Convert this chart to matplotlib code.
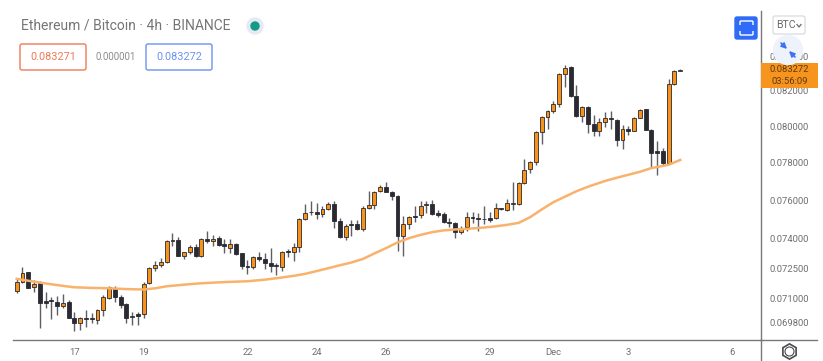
from matplotlib import pyplot as plt
from matplotlib.patches import Circle, FancyBboxPatch, Rectangle
from matplotlib.ticker import FixedLocator, NullLocator

opens = [
    .07137, .07183, .07230, .07154, .07175, .07089, .07091, .07084, .07063, .07084,
    .07006, .06979, .07006, .07002, .06995, .07043, .07102, .07152, .07109, .07072,
    .07008, .07024, .07024, .07175, .07252, .07264, .07284, .07390, .07394, .07314,
    .07331, .07360, .07312, .07398, .07387, .07403, .07373, .07355, .07373, .07326,
    .07262, .07254, .07309, .07295, .07275, .07265, .07258, .07339, .07331, .07360,
    .07503, .07537, .07539, .07529, .07555, .07580, .07494, .07408, .07476, .07474,
    .07451, .07560, .07576, .07647, .07670, .07644, .07624, .07415, .07477, .07518,
    .07523, .07576, .07581, .07533, .07528, .07488, .07481, .07436, .07460, .07512,
    .07507, .07503, .07505, .07507, .07559, .07550, .07583, .07580, .07691, .07768,
    .07807, .07969, .08055, .08088, .08126, .08295, .08339, .08171, .08060, .08110,
    .08011, .07972, .08026, .08048, .08037, .07926, .07985, .07977, .08048, .08096,
    .07981, .07862, .07862, .07799, .08238, .08316,
]
highs = [
    .07196, .07258, .07233, .07192, .07187, .07133, .07109, .07114, .07122, .07092,
    .07031, .07011, .07043, .07027, .07046, .07117, .07160, .07162, .07117, .07076,
    .07035, .07031, .07179, .07255, .07289, .07300, .07394, .07428, .07411, .07334,
    .07368, .07373, .07403, .07441, .07420, .07415, .07399, .07399, .07380, .07329,
    .07292, .07312, .07334, .07326, .07351, .07275, .07339, .07346, .07377, .07505,
    .07580, .07597, .07588, .07568, .07591, .07599, .07507, .07476, .07498, .07498,
    .07571, .07647, .07649, .07682, .07697, .07652, .07629, .07520, .07520, .07568,
    .07594, .07599, .07603, .07550, .07541, .07507, .07484, .07467, .07541, .07538,
    .07533, .07568, .07541, .07585, .07562, .07606, .07695, .07695, .07821, .07812,
    .07972, .08059, .08090, .08143, .08301, .08349, .08343, .08234, .08114, .08114,
    .08064, .08046, .08083, .08087, .08041, .08009, .08005, .08055, .08100, .08100,
    .07985, .07917, .07880, .08266, .08318, .08327,
]
lows = [
    .07125, .07175, .07150, .07133, .06954, .07051, .07000, .07019, .07051, .07003,
    .06941, .06948, .06959, .06979, .06975, .07014, .07099, .07084, .07051, .06979,
    .06970, .06970, .07006, .07170, .07237, .07255, .07279, .07363, .07312, .07297,
    .07320, .07309, .07309, .07380, .07363, .07364, .07326, .07326, .07317, .07247,
    .07220, .07247, .07289, .07245, .07233, .07217, .07238, .07309, .07287, .07334,
    .07498, .07524, .07503, .07515, .07550, .07458, .07406, .07394, .07415, .07446,
    .07442, .07557, .07553, .07644, .07642, .07603, .07339, .07312, .07450, .07484,
    .07507, .07536, .07524, .07512, .07481, .07463, .07406, .07425, .07442, .07481,
    .07442, .07477, .07484, .07501, .07550, .07546, .07550, .07576, .07686, .07747,
    .07787, .07903, .07987, .08074, .08107, .08224, .08167, .08055, .08022, .07963,
    .07948, .07948, .07997, .07985, .07890, .07875, .07954, .07972, .08046, .07979,
    .07772, .07736, .07785, .07795, .08234, .08316,
]
closes = [
    .07181, .07225, .07153, .07172, .07076, .07076, .07086, .07063, .07079, .07004,
    .06979, .07006, .07000, .06999, .07043, .07105, .07154, .07105, .07068, .07006,
    .07016, .07016, .07172, .07250, .07265, .07280, .07390, .07394, .07314, .07331,
    .07360, .07312, .07399, .07387, .07401, .07368, .07363, .07373, .07322, .07263,
    .07254, .07309, .07295, .07279, .07262, .07262, .07334, .07333, .07360, .07502,
    .07533, .07541, .07529, .07553, .07580, .07494, .07408, .07468, .07470, .07451,
    .07560, .07576, .07645, .07670, .07644, .07625, .07415, .07476, .07512, .07513,
    .07568, .07581, .07528, .07524, .07486, .07481, .07434, .07458, .07512, .07507,
    .07503, .07500, .07498, .07562, .07552, .07585, .07588, .07691, .07763, .07806,
    .07969, .08055, .08087, .08124, .08295, .08333, .08171, .08059, .08110, .08015,
    .07972, .08022, .08046, .08041, .07926, .07985, .07977, .08046, .08092, .07981,
    .07853, .07853, .07799, .08238, .08314, .08322,
]

# moving average, read at some candles only
ma_candles = [0, 3, 5, 8, 10, 13, 16, 19, 22, 24, 26, 29, 32, 36, 40, 43, 45, 48, 50,
              53, 56, 58, 60, 62, 64, 66, 68, 70, 72, 74, 76, 78, 81, 83, 85, 87, 89,
              91, 93, 95, 97, 99, 102, 104, 106, 108, 110, 112, 113, 115]
ma_values = [.07197, .07183, .07174, .07162, .07155, .07152, .07150, .07146, .07144,
             .07150, .07160, .07168, .07175, .07181, .07185, .07193, .07200, .07212,
             .07222, .07243, .07265, .07279, .07297, .07325, .07352, .07381, .07403,
             .07420, .07434, .07443, .07448, .07451, .07458, .07464, .07472, .07482,
             .07512, .07552, .07590, .07619, .07648, .07672, .07703, .07720, .07736,
             .07752, .07772, .07784, .07790, .07816]

price_ticks = [.0698, .071, .0725, .074, .076, .078, .08, .082, .084]
price_labels = ["0.069800", "0.071000", "0.072500", "0.074000", "0.076000",
                "0.078000", "0.080000", "0.082000", "0.084000"]
date_ticks = [10, 22, 40, 52, 64, 82, 93, 106, 124]
date_labels = ["17", "19", "22", "24", "26", "29", "Dec", "3", "6"]

ORANGE = "#f7931a"
DARK = "#2a2a32"
WICK = "#5e5e65"
GREY = "#6f6f75"
BLUE = "#2f6bf6"

plt.rcParams["font.family"] = ["Roboto", "DejaVu Sans"]

W, H = 823, 361
fig = plt.figure(figsize=(W / 100, H / 100), dpi=100)
ax = fig.add_axes([13 / W, (H - 340) / H, 748 / W, 329 / H])

candles = range(len(opens))
ax.vlines(candles, lows, highs, color=WICK, lw=1.0, zorder=2)
for i in candles:
    up = closes[i] >= opens[i]
    ax.bar(i, abs(closes[i] - opens[i]), 0.68, bottom=min(opens[i], closes[i]),
           color=ORANGE if up else DARK, edgecolor=DARK, lw=0.6, zorder=3)
ax.plot(ma_candles, ma_values, color="#f9b26c", lw=1.8, zorder=4)

ax.set_yscale("log")
ax.set_xlim(-0.64, 129.0)
ax.set_ylim(.06898, .08667)
ax.yaxis.tick_right()
ax.yaxis.set_major_locator(FixedLocator(price_ticks))
ax.yaxis.set_minor_locator(NullLocator())
ax.set_yticklabels(price_labels)
ax.set_xticks(date_ticks, date_labels)
ax.tick_params(axis="y", length=0, pad=6, labelsize=6.8, labelcolor=GREY)
ax.tick_params(axis="x", length=0, pad=6, labelsize=6.8, labelcolor=GREY)
for side in ["top", "left"]:
    ax.spines[side].set_visible(False)
ax.spines["right"].set_color("#77777c")
ax.spines["bottom"].set_color("#77777c")
ax.spines["right"].set_linewidth(1.0)
ax.spines["bottom"].set_linewidth(1.0)

# everything around the chart is placed in pixels on a second axes
ui = fig.add_axes([0, 0, 1, 1], zorder=10)
ui.set_xlim(0, W)
ui.set_ylim(H, 0)
ui.axis("off")
ui.patch.set_alpha(0)

ui.plot([761, 761], [340, 361], color="#77777c", lw=1.0)
ui.plot([761, 817], [340, 340], color="#77777c", lw=1.0)

ui.text(21, 26, "Ethereum / Bitcoin · 4h · BINANCE", fontsize=10, color="#757575",
        va="center")
ui.add_patch(Circle((255, 26), 8, color="#e4eaf3"))
ui.add_patch(Circle((255, 26), 4, color="#149a85"))


def value_box(x0, x1, text, color):
    ui.add_patch(FancyBboxPatch((x0 + 2, 46), x1 - x0 - 4, 22, fc="white", ec=color, lw=1.0,
                                boxstyle="round,pad=2"))
    ui.text((x0 + x1) / 2, 57, text, color=color, fontsize=7.8, ha="center", va="center")


value_box(20, 86, "0.083271", "#ee7a56")
value_box(146, 212, "0.083272", "#6c93f0")
ui.text(115.5, 57, "0.000001", color="#8c8c90", fontsize=7, ha="center", va="center")

# fullscreen button
ui.add_patch(FancyBboxPatch((737, 19), 18, 18, fc=BLUE, ec=BLUE, lw=1.0,
                            boxstyle="round,pad=2"))
ui.add_patch(FancyBboxPatch((741, 22), 11, 12, fc=BLUE, ec="white", lw=1.0,
                            boxstyle="round,pad=1"))
ui.add_patch(Rectangle((738, 25), 17, 6, fc=BLUE, ec="none", zorder=3))

# currency button
ui.add_patch(FancyBboxPatch((775, 18), 28, 14, fc="white", ec="#d6d6da", lw=0.8,
                            boxstyle="round,pad=2"))
ui.text(785.5, 25.5, "BTC", fontsize=7.6, color="#6a6a6a", ha="center", va="center")
ui.plot([797, 799, 801], [24.5, 27, 24.5], color="#6a6a6a", lw=0.9)

# price label
ui.add_patch(Rectangle((761, 63), 57, 25, fc="#f7941d", ec="none"))
ui.text(789.5, 69.5, "0.083272", fontsize=6.8, color="#5c3a10", ha="center", va="center")
ui.text(789.5, 81, "03:56:09", fontsize=6.8, color="#5c3a10", ha="center", va="center")

# auto scale button, sits on top of the 0.084 label
ui.add_patch(Circle((788, 50), 14.5, color="#eef2fb", zorder=3))
for xs, ys in [([781, 787], [43, 49]), ([795, 789], [57, 51])]:
    ui.annotate("", xy=(xs[1], ys[1]), xytext=(xs[0], ys[0]), zorder=4,
                arrowprops=dict(arrowstyle="-|>", color="#3f72f0", lw=1.2, mutation_scale=8,
                                shrinkA=0, shrinkB=0))

# settings gear
ui.plot([789], [351], marker="h", ms=11, mfc="white", mec="#4a4a4f", mew=1.2)
ui.plot([789], [351], marker="o", ms=6.5, mfc="white", mec="#4a4a4f", mew=0.8)

fig.savefig("out.png", dpi=100)
